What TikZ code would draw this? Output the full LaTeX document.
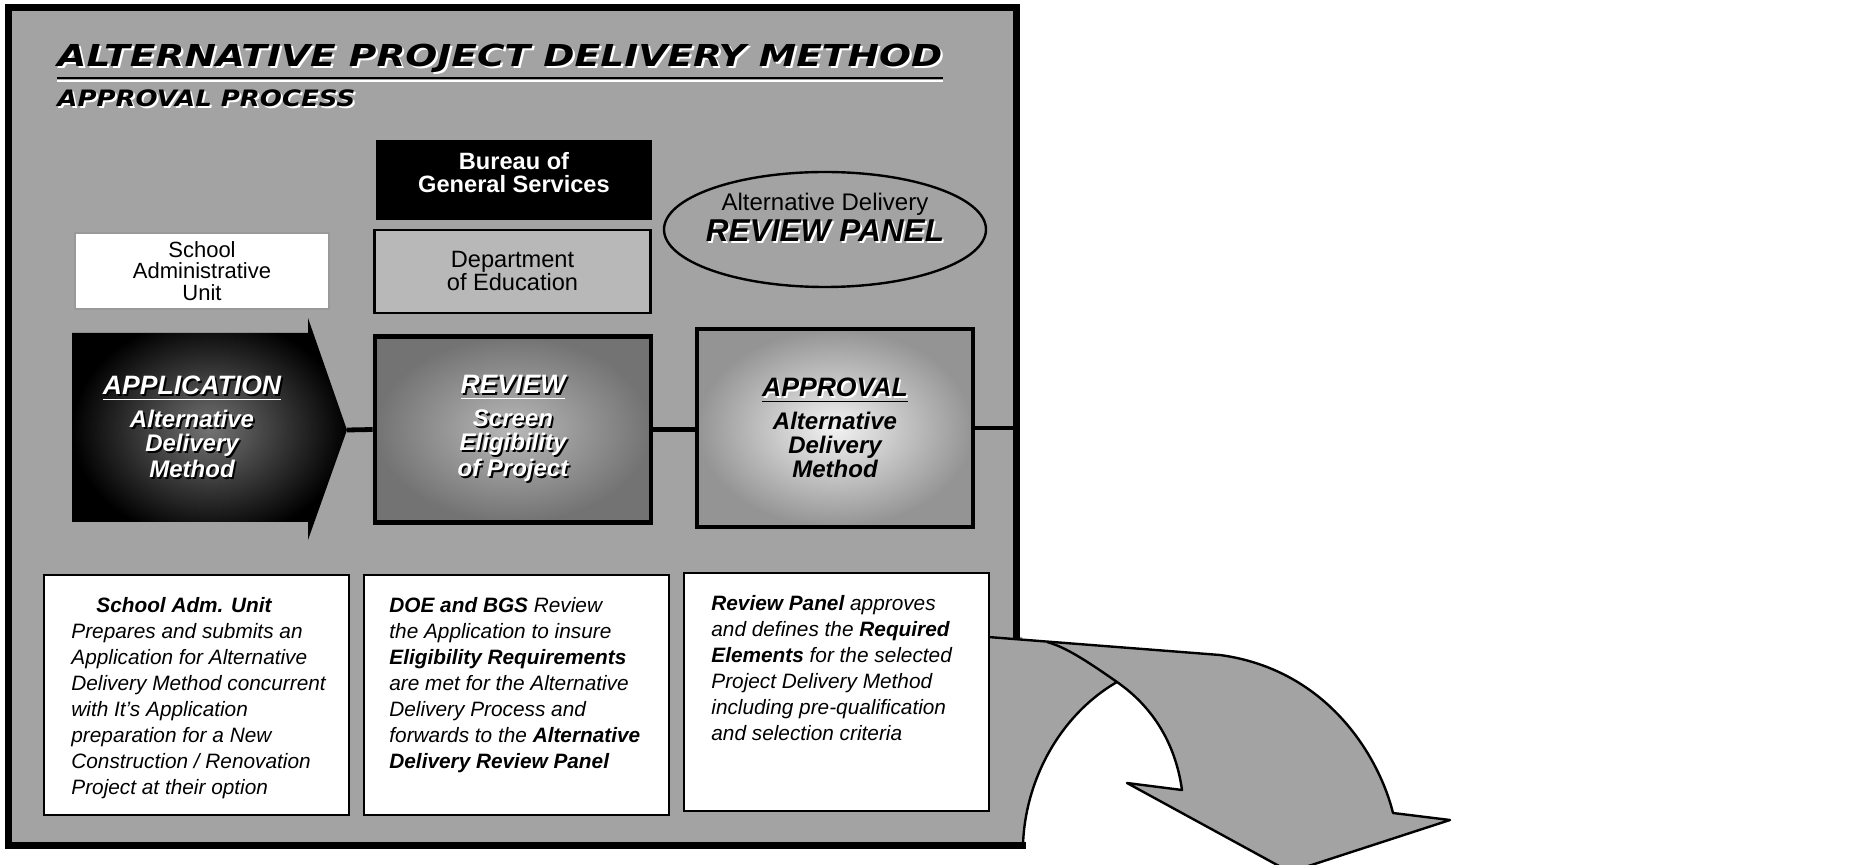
\documentclass[tikz,border=0pt]{standalone}
\usepackage{fontspec}
\usepackage{graphicx}
\setmainfont{Liberation Sans}
\newfontfamily\heavyfont{DejaVu Sans}
\usetikzlibrary{shapes.geometric}

% text with a small offset shadow behind it
\newcommand\embossed[3]{\makebox[0pt][l]{\hspace{0.9pt}\raisebox{-0.9pt}{\textcolor{#2}{#3}}}\textcolor{#1}{#3}}

\tikzset{
  agency/.style={
    % The shape:
    rectangle,
    % The size:
    minimum width=138pt,minimum height=40pt,
    % The rest
    inner sep=2pt,align=center,font=\fontsize{11.8}{11.5}\selectfont
  },
  stepbox/.style={
    % The shape:
    rectangle,
    % The size:
    minimum width=138pt,minimum height=93pt,
    % The border:
    line width=2.4pt,draw=black,
    % The filling:
    shading=radial,
    % The rest
    align=center,font=\fontsize{12}{12}\selectfont\bfseries\itshape
  },
  notebox/.style={
    rectangle,
    minimum width=152.5pt,minimum height=120pt,
    % The rest
    draw=black,line width=1pt,fill=white},
  notetext/.style={
    anchor=north west,inner sep=0pt,align=left,
    font=\fontsize{10.4}{13}\selectfont\itshape},
  link/.style={line width=2.4pt,draw=black}
}

\begin{document}
\begin{tikzpicture}[x=0.5pt,y=-0.5pt,
                    frameline/.style={line width=3.5pt,line cap=rect},
                    bend arrow/.style={fill=black!36,draw=black,line width=1.2pt,line join=round}]
  \useasboundingbox (0,0) rectangle (1858,865);

  % the shaded sheet
  \fill[black!36] (8,8) -- (1016,8) -- (1016,637) -- (1022,637) -- (1022,845) -- (8,845) -- cycle;

  % the bent arrow leaving the sheet on the right
  \filldraw[bend arrow] (988,637) -- (1220,655)
     .. controls (1330,670) and (1380,760) .. (1393,813)
     -- (1450,820) -- (1290,872) -- (1127,783) -- (1182,790)
     .. controls (1175,740) and (1150,705) .. (1117,682)
     .. controls (1060,715) and (1025,780) .. (1023,845);
  \draw[bend arrow,fill=none] (1117,682) .. controls (1084,659) and (1065,647) .. (1047,642);
  \draw[frameline] (1016,637) -- (1016,8) -- (8,8) -- (8,845) -- (1022,845);

  % headings
  \node (title) [anchor=base west,inner sep=0pt] at (57,67)
    {\scalebox{1.245}[1]{\heavyfont\fontsize{15.1}{16}\selectfont\bfseries\itshape\embossed{black}{white}{ALTERNATIVE PROJECT DELIVERY METHOD}}};
  \draw[line width=1pt] ([yshift=-5.5pt]title.base west) -- ([yshift=-5.5pt]title.base east);
  \draw[line width=1pt,white] ([yshift=-7pt]title.base west) -- ([yshift=-7pt]title.base east);
  \node (subtitle) [anchor=base west,inner sep=0pt] at (57,107)
    {\scalebox{1.15}[1]{\heavyfont\fontsize{11.3}{12}\selectfont\bfseries\itshape\embossed{black}{white}{APPROVAL PROCESS}}};

  % who takes part
  \node (bgs) [agency,fill=black,text=white,text depth=8pt,font=\fontsize{11.8}{11.5}\selectfont\bfseries] at (514,180) {Bureau of\\General Services};
  \node (doe) [agency,draw=black,line width=1.4pt,fill=black!28,minimum height=41.5pt] at (512.5,271.5) {Department\\of Education};
  \node (sau) [agency,fill=white,draw=black!40,line width=0.6pt,minimum width=127pt,minimum height=38pt,
               font=\fontsize{11}{10.8}\selectfont] at (202,271) {School\\Administrative\\Unit};
  \node (panel) [ellipse,draw=black,line width=1.2pt,minimum width=161pt,minimum height=57.5pt] at (825,229.5) {};
  \node (paneltext) [align=center,inner sep=0pt] at ([yshift=5.5pt]panel.center)
    {{\fontsize{12}{14}\selectfont Alternative Delivery}\\[1pt]
     {\fontsize{15.8}{16}\selectfont\bfseries\itshape\embossed{black}{white}{REVIEW PANEL}}};

  % the three steps
  \shade[inner color=black!55,outer color=black] (72,333) -- (308,333) -- (308,318) -- (347,430)
     -- (308,540) -- (308,522) -- (72,522) -- cycle;
  \coordinate (apptip) at (347,430);
  \node (application) [align=center,text=white,font=\fontsize{12}{12}\selectfont\bfseries\itshape] at (192,428)
    {{\fontsize{13.3}{16}\selectfont\underline{\embossed{white}{black}{APPLICATION}}}\\[4.5pt]
     \embossed{white}{black}{Alternative}\\\embossed{white}{black}{Delivery}\\\embossed{white}{black}{Method}};
  \node (review) [stepbox,inner color=black!28,outer color=black!55,text=white] at (513,429.5)
    {{\fontsize{13.3}{16}\selectfont\underline{\embossed{white}{black}{REVIEW}}}\\[4.5pt]
     \embossed{white}{black}{Screen}\\\embossed{white}{black}{Eligibility}\\\embossed{white}{black}{of Project}};
  \node (approval) [stepbox,inner color=black!5,outer color=black!42,minimum height=99pt,line width=2pt] at (835,428)
    {{\fontsize{13.3}{16}\selectfont\underline{\embossed{black}{white}{APPROVAL}}}\\[4.5pt]
     Alternative\\Delivery\\Method};
  \coordinate (sheetedge) at (1016,428);
  \draw[link] (apptip) -- (review.west);
  \draw[link] (review.east) -- (approval.west |- review.east);
  \draw[link] (approval.east) -- (sheetedge);

  % notes under each step
  \node (adm note) [notebox] at (196.5,695) {};
  \node (adm text) [notetext] at ([shift={(14pt,-11.5pt)}]adm note.north west)
    {\hspace*{12.5pt}\textbf{School Adm. Unit}\\
     Prepares and submits an\\
     Application for Alternative\\
     Delivery Method concurrent\\
     with It's Application\\
     preparation for a New\\
     Construction / Renovation\\
     Project at their option};
  \node (review note) [notebox] at (516.5,695) {};
  \node (review text) [notetext] at ([shift={(13pt,-11.5pt)}]review note.north west)
    {\textbf{DOE and BGS} Review\\
     the Application to insure\\
     \textbf{Eligibility Requirements}\\
     are met for the Alternative\\
     Delivery Process and\\
     forwards to the \textbf{Alternative}\\
     \textbf{Delivery Review Panel}};
  \node (panel note) [notebox,minimum height=119pt] at (836.5,692) {};
  \node (panel text) [notetext] at ([shift={(14pt,-11.5pt)}]panel note.north west)
    {\textbf{Review Panel} approves\\
     and defines the \textbf{Required}\\
     \textbf{Elements} for the selected\\
     Project Delivery Method\\
     including pre-qualification\\
     and selection criteria};
\end{tikzpicture}
\end{document}
